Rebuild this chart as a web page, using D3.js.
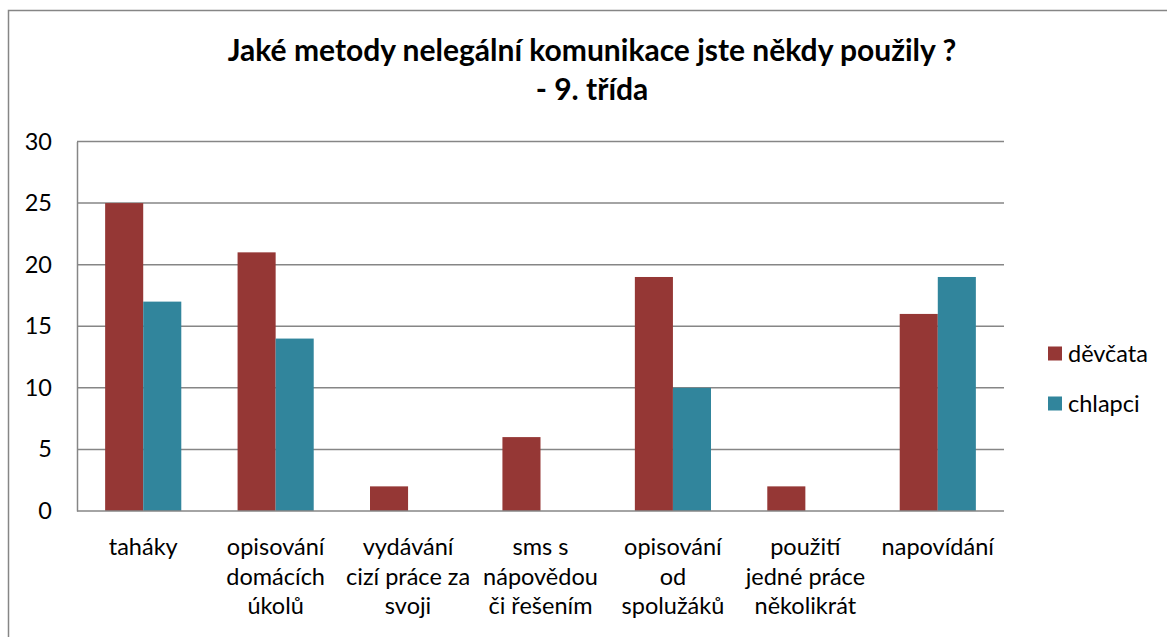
<!DOCTYPE html>
<html><head><meta charset="utf-8">
<script src="https://cdn.jsdelivr.net/npm/d3@7"></script>
<style>body{margin:0;background:#fff}svg{display:block;font-family:Lato,"Open Sans",sans-serif}</style>
</head><body>
<svg id="c" width="1167" height="637"></svg>
<script>
const categories = [
  ["taháky"],
  ["opisování","domácích","úkolů"],
  ["vydávání","cizí práce za","svoji"],
  ["sms s","nápovědou","či řešením"],
  ["opisování","od","spolužáků"],
  ["použití","jedné práce","několikrát"],
  ["napovídání"]
];
const seriesNames = ["děvčata","chlapci"];
const girls = [25,21,2,6,19,2,16];
const boys = [17,14,0,0,10,0,19];
const yTicks = [0,5,10,15,20,25,30];
const colors = ["#953735","#31859C"];
const titleLines = ["Jaké metody nelegální komunikace jste někdy použily ?","- 9. třída"];

const svg = d3.select("#c");
const L = 77, R = 1004, T = 141.5, B = 511;
const grey = "#868686";
const FS = 23.5;

svg.append("path").attr("d","M8.5,637 V10.5 H1167").attr("fill","none").attr("stroke",grey).attr("stroke-width",1.5);

const x0 = d3.scaleBand().domain(d3.range(categories.length)).range([L,R]).paddingInner(0.425).paddingOuter(0.2125);
const x1 = d3.scaleBand().domain([0,1]).range([0,x0.bandwidth()]);
const y = d3.scaleLinear().domain([0,30]).range([B,T]);

svg.append("g").selectAll("line").data(yTicks.filter(d=>d>0)).join("line")
  .attr("x1",L).attr("x2",R).attr("y1",d=>y(d)).attr("y2",d=>y(d))
  .attr("stroke",grey).attr("stroke-width",1.5);

const data = categories.map((c,i)=>[girls[i],boys[i]]);
const g = svg.append("g");
data.forEach((vals,i)=>{
  vals.forEach((v,s)=>{
    if(v<=0) return;
    g.append("rect").attr("x",x0(i)+x1(s)).attr("width",x1.bandwidth())
      .attr("y",y(v)).attr("height",y(0)-y(v)).attr("fill",colors[s]);
  });
});

const yAxis = svg.append("g").attr("transform",`translate(${L},0)`)
  .call(d3.axisLeft(y).tickValues(yTicks).tickSize(0).tickPadding(25));
yAxis.select(".domain").attr("stroke",grey).attr("stroke-width",1.5);
yAxis.selectAll("text").attr("font-size",FS).attr("fill","#000").attr("font-family","Lato,'Open Sans',sans-serif");

const xAxis = svg.append("g").attr("transform",`translate(0,${B})`)
  .call(d3.axisBottom(x0).tickSize(0).tickFormat(""));
xAxis.select(".domain").attr("stroke",grey).attr("stroke-width",1.5).attr("d",`M${L},0H${R}`);

categories.forEach((lines,i)=>{
  const cx = x0(i)+x0.bandwidth()/2;
  lines.forEach((t,j)=>{
    svg.append("text").attr("x",cx).attr("y",555+j*29.5).attr("text-anchor","middle")
      .attr("font-size",FS).attr("fill","#000").text(t);
  });
});

titleLines.forEach((t,j)=>{
  svg.append("text").attr("x",592).attr("y",61+j*39).attr("text-anchor","middle")
    .attr("font-size",30).attr("font-weight","bold").attr("fill","#000").text(t);
});

seriesNames.forEach((n,i)=>{
  const ly = 353.5 + i*50;
  svg.append("rect").attr("x",1048).attr("y",ly-7).attr("width",14).attr("height",14).attr("fill",colors[i]);
  svg.append("text").attr("x",1068).attr("y",ly+8).attr("font-size",FS).attr("fill","#000").text(n);
});
</script>
</body></html>
